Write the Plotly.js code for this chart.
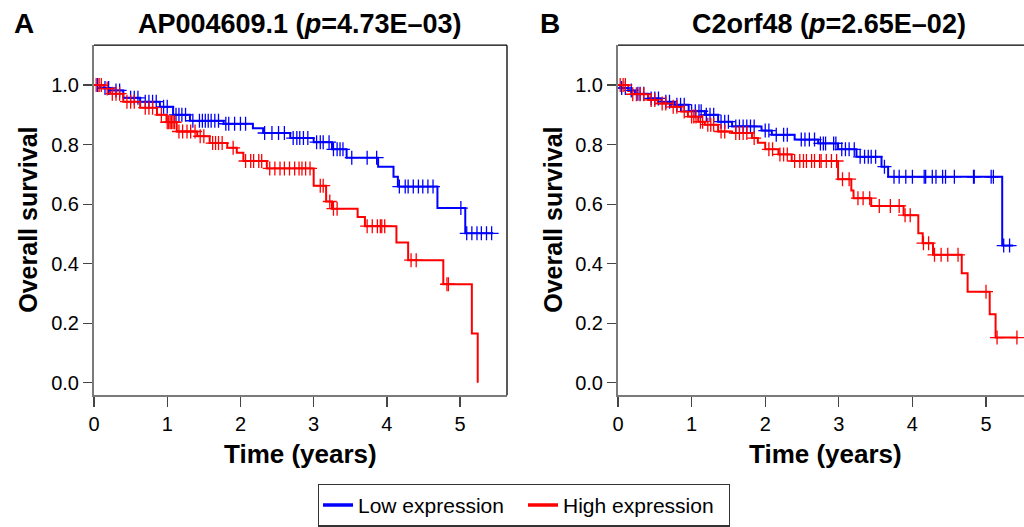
<!DOCTYPE html>
<html>
<head>
<meta charset="utf-8">
<script src="https://cdn.plot.ly/plotly-3.0.1.min.js"></script>
<style>html,body{margin:0;padding:0;background:#fff;}#chart{width:1024px;height:527px;}</style>
</head>
<body>
<div id="chart"></div>
<script>
// ---------- Data ----------
const seriesNames = ["Low expression", "High expression"];
const panelTitles = ["AP004609.1 (<i>p</i>=4.73E\u201303)", "C2orf48 (<i>p</i>=2.65E\u201302)"];
const panelLetters = ["A", "B"];
const xTicks = [0, 1, 2, 3, 4, 5];
const yTicks = [0, 0.2, 0.4, 0.6, 0.8, 1.0];

// Panel A – low expression
const aLowTimes = [0, 0.08, 0.22, 0.4, 0.63, 0.9, 1.08, 1.31, 1.77, 2.17, 2.31, 2.68, 3.0, 3.25, 3.45, 3.88, 4.09, 4.15, 4.69, 5.07];
const aLowSurv  = [1.0, 0.99, 0.982, 0.957, 0.944, 0.927, 0.90, 0.88, 0.87, 0.855, 0.839, 0.822, 0.808, 0.784, 0.756, 0.726, 0.692, 0.659, 0.587, 0.502];
const aLowEnd = 5.45;
const aLowCens = [0.05, 0.15, 0.2, 0.3, 0.35, 0.5, 0.55, 0.6, 0.7, 0.75, 0.8, 0.85, 0.95, 1.0, 1.12, 1.16, 1.2, 1.25, 1.35, 1.44, 1.48, 1.52, 1.56, 1.6, 1.65, 1.7, 1.8, 1.84, 1.92, 2.0, 2.07, 2.33, 2.43, 2.52, 2.6, 2.72, 2.77, 2.81, 2.86, 2.92, 3.04, 3.09, 3.13, 3.21, 3.27, 3.32, 3.36, 3.40, 3.52, 3.73, 3.86, 4.17, 4.25, 4.29, 4.36, 4.43, 4.49, 4.56, 4.63, 5.01, 5.09, 5.16, 5.23, 5.29, 5.36, 5.43];

// Panel A – high expression
const aHighTimes = [0, 0.13, 0.22, 0.4, 0.63, 0.86, 0.99, 1.13, 1.41, 1.58, 1.82, 1.95, 2.04, 2.36, 3.0, 3.17, 3.25, 3.6, 3.7, 4.13, 4.29, 4.77, 5.16, 5.24];
const aHighSurv  = [1.0, 0.988, 0.971, 0.944, 0.924, 0.90, 0.875, 0.844, 0.828, 0.805, 0.789, 0.773, 0.745, 0.72, 0.662, 0.609, 0.585, 0.557, 0.526, 0.471, 0.412, 0.331, 0.166, 0.0];
const aHighEnd = 5.24;
const aHighCens = [0.03, 0.07, 0.1, 0.18, 0.25, 0.3, 0.35, 0.45, 0.5, 0.55, 0.7, 0.75, 0.8, 0.92, 1.0, 1.02, 1.04, 1.06, 1.08, 1.1, 1.16, 1.21, 1.27, 1.32, 1.38, 1.45, 1.5, 1.62, 1.66, 1.7, 1.75, 1.9, 2.07, 2.14, 2.18, 2.25, 2.29, 2.4, 2.47, 2.54, 2.6, 2.67, 2.74, 2.8, 2.84, 2.89, 2.95, 3.09, 3.13, 3.22, 3.27, 3.32, 3.73, 3.8, 3.87, 3.91, 3.93, 3.97, 4.33, 4.4, 4.82, 4.84];

// Panel B – low expression
const bLowTimes = [0, 0.03, 0.14, 0.23, 0.41, 0.59, 0.77, 0.96, 1.18, 1.36, 1.55, 1.95, 2.09, 2.40, 2.72, 2.99, 3.24, 3.58, 3.67, 5.22];
const bLowSurv  = [1.0, 0.99, 0.982, 0.971, 0.955, 0.944, 0.934, 0.912, 0.90, 0.877, 0.861, 0.847, 0.833, 0.817, 0.804, 0.784, 0.759, 0.726, 0.692, 0.461];
const bLowEnd = 5.37;
const bLowCens = [0.05, 0.1, 0.18, 0.27, 0.3, 0.35, 0.45, 0.5, 0.55, 0.65, 0.7, 0.8, 0.85, 0.9, 1.0, 1.05, 1.1, 1.13, 1.2, 1.25, 1.3, 1.4, 1.45, 1.5, 1.6, 1.65, 1.7, 1.75, 1.8, 1.85, 2.0, 2.05, 2.15, 2.25, 2.3, 2.49, 2.54, 2.6, 2.67, 2.75, 2.79, 2.82, 2.93, 2.96, 3.04, 3.09, 3.14, 3.21, 3.29, 3.35, 3.4, 3.44, 3.5, 3.62, 3.75, 3.82, 3.91, 4.0, 4.16, 4.18, 4.27, 4.32, 4.41, 4.45, 4.57, 4.83, 4.84, 5.07, 5.1, 5.24, 5.32];

// Panel B – high expression
const bHighTimes = [0, 0.14, 0.18, 0.41, 0.54, 0.72, 0.86, 0.95, 1.09, 1.18, 1.36, 1.55, 1.82, 1.9, 2.0, 2.18, 2.36, 2.99, 3.17, 3.2, 3.44, 3.88, 4.08, 4.14, 4.28, 4.67, 4.75, 5.05, 5.13];
const bHighSurv  = [1.0, 0.98, 0.969, 0.95, 0.938, 0.927, 0.911, 0.894, 0.877, 0.867, 0.844, 0.839, 0.822, 0.806, 0.784, 0.767, 0.745, 0.684, 0.646, 0.62, 0.594, 0.563, 0.502, 0.469, 0.43, 0.368, 0.306, 0.23, 0.152];
const bHighEnd = 5.43;
const bHighCens = [0.03, 0.07, 0.1, 0.2, 0.25, 0.3, 0.35, 0.45, 0.5, 0.6, 0.65, 0.75, 0.8, 0.9, 1.0, 1.03, 1.06, 1.12, 1.15, 1.22, 1.26, 1.3, 1.4, 1.45, 1.6, 1.65, 1.7, 1.75, 1.85, 2.05, 2.1, 2.2, 2.25, 2.3, 2.4, 2.47, 2.52, 2.56, 2.63, 2.67, 2.74, 2.76, 2.83, 2.9, 2.97, 3.05, 3.14, 3.26, 3.33, 3.42, 3.55, 3.7, 3.82, 3.9, 3.97, 4.15, 4.22, 4.3, 4.39, 4.48, 4.62, 5.0, 5.15, 5.42];

// ---------- Helpers ----------
const BLUE = "#0000FF", RED = "#FF0000";
const FONT = "Liberation Sans, Arial, Helvetica, sans-serif";

function survAt(times, surv, t) {
  let v = surv[0];
  for (let i = 0; i < times.length; i++) { if (times[i] <= t) v = surv[i]; }
  return v;
}
function stepTrace(times, surv, end, color, name, xa, ya) {
  return {
    x: times.concat([end]), y: surv.concat([surv[surv.length - 1]]),
    mode: "lines", line: {shape: "hv", color: color, width: 2},
    name: name, showlegend: false, legendgroup: name, xaxis: xa, yaxis: ya, hoverinfo: "skip"
  };
}
function censTrace(times, surv, cens, color, name, xa, ya) {
  return {
    x: cens, y: cens.map(t => survAt(times, surv, t)),
    mode: "markers", marker: {symbol: "cross-thin-open", size: 10, color: color, line: {color: color, width: 1.3}},
    name: name, showlegend: false, legendgroup: name, xaxis: xa, yaxis: ya, hoverinfo: "skip"
  };
}
function legendTrace(color, name) {
  return {x: [null], y: [null], mode: "lines", line: {color: color, width: 3.5}, name: name, showlegend: true, legendgroup: name, xaxis: "x", yaxis: "y"};
}

const traces = [
  stepTrace(aLowTimes, aLowSurv, aLowEnd, BLUE, seriesNames[0], "x", "y"),
  stepTrace(aHighTimes, aHighSurv, aHighEnd, RED, seriesNames[1], "x", "y"),
  censTrace(aLowTimes, aLowSurv, aLowCens, BLUE, seriesNames[0], "x", "y"),
  censTrace(aHighTimes, aHighSurv, aHighCens, RED, seriesNames[1], "x", "y"),
  stepTrace(bLowTimes, bLowSurv, bLowEnd, BLUE, seriesNames[0], "x2", "y2"),
  stepTrace(bHighTimes, bHighSurv, bHighEnd, RED, seriesNames[1], "x2", "y2"),
  censTrace(bLowTimes, bLowSurv, bLowCens, BLUE, seriesNames[0], "x2", "y2"),
  censTrace(bHighTimes, bHighSurv, bHighCens, RED, seriesNames[1], "x2", "y2"),
  legendTrace(BLUE, seriesNames[0]),
  legendTrace(RED, seriesNames[1])
];

// ---------- Layout ----------
const W = 1024, H = 527;
const boxTop = 46, boxBot = 403;
const yDom = [1 - boxBot / H, 1 - boxTop / H];
const yRange = [-0.042, 1.134];
const axLine = "#7a7a7a", tickCol = "#444";

function xAxis(domain, range, anchor) {
  return {
    domain: domain, range: range, anchor: anchor,
    tickmode: "array", tickvals: xTicks, ticktext: xTicks.map(String), ticks: "outside", ticklen: 10, tickwidth: 1.3, tickcolor: tickCol,
    showline: true, linecolor: axLine, linewidth: 2, mirror: false,
    showgrid: false, zeroline: false, tickfont: {family: FONT, size: 20, color: "#000"}, fixedrange: true
  };
}
function yAxis(anchor) {
  return {
    domain: yDom, range: yRange, anchor: anchor,
    tickmode: "array", tickvals: yTicks, ticktext: yTicks.map(v => v.toFixed(1)), ticks: "outside", ticklen: 9, tickwidth: 1.3, tickcolor: tickCol,
    showline: true, linecolor: axLine, linewidth: 2,
    showgrid: false, zeroline: false, tickfont: {family: FONT, size: 20, color: "#000"}, fixedrange: true
  };
}

const aL = 94, aR = 507, bL = 618;
const TS = 27, AS = 25;
const layout = {
  width: W, height: H, margin: {l: 0, r: 0, t: 0, b: 0},
  paper_bgcolor: "#fff", plot_bgcolor: "#fff", showlegend: true,
  xaxis: xAxis([aL / W, aR / W], [0, 5.64], "y"),
  yaxis: yAxis("x"),
  xaxis2: xAxis([bL / W, 1], [0, 5.516], "y2"),
  yaxis2: yAxis("x2"),
  legend: {
    orientation: "h", x: 318 / W, xanchor: "left", y: 1 - 493 / H, yanchor: "top",
    bordercolor: "#333", borderwidth: 1.3, bgcolor: "#fff",
    font: {family: FONT, size: 21, color: "#000"}, itemwidth: 30, entrywidth: 160, tracegroupgap: 0
  },
  shapes: [
    {type: "line", xref: "paper", yref: "paper", x0: aL / W, x1: aR / W, y0: yDom[1], y1: yDom[1], line: {color: "#000", width: 1.3}},
    {type: "line", xref: "paper", yref: "paper", x0: aR / W, x1: aR / W, y0: yDom[0], y1: yDom[1], line: {color: "#000", width: 1.3}},
    {type: "line", xref: "paper", yref: "paper", x0: bL / W, x1: 1, y0: yDom[1], y1: yDom[1], line: {color: "#000", width: 1.3}}
  ],
  annotations: [
    {text: "<b>" + panelLetters[0] + "</b>", x: 24 / W, y: 1 - 24 / H, xref: "paper", yref: "paper", showarrow: false, xanchor: "center", yanchor: "middle", font: {family: FONT, size: 28, color: "#000"}},
    {text: "<b>" + panelLetters[1] + "</b>", x: 550 / W, y: 1 - 24 / H, xref: "paper", yref: "paper", showarrow: false, xanchor: "center", yanchor: "middle", font: {family: FONT, size: 28, color: "#000"}},
    {text: "<b>" + panelTitles[0] + "</b>", x: 300 / W, y: 1 - 24 / H, xref: "paper", yref: "paper", showarrow: false, xanchor: "center", yanchor: "middle", font: {family: FONT, size: TS, color: "#000"}},
    {text: "<b>" + panelTitles[1] + "</b>", x: 829 / W, y: 1 - 24 / H, xref: "paper", yref: "paper", showarrow: false, xanchor: "center", yanchor: "middle", font: {family: FONT, size: TS, color: "#000"}},
    {text: "<b>Overall survival</b>", x: 28 / W, y: 1 - 224 / H, xref: "paper", yref: "paper", showarrow: false, textangle: -90, xanchor: "center", yanchor: "middle", font: {family: FONT, size: AS, color: "#000"}},
    {text: "<b>Overall survival</b>", x: 553 / W, y: 1 - 224 / H, xref: "paper", yref: "paper", showarrow: false, textangle: -90, xanchor: "center", yanchor: "middle", font: {family: FONT, size: AS, color: "#000"}},
    {text: "<b>Time (years)</b>", x: 300 / W, y: 1 - 463 / H, xref: "paper", yref: "paper", showarrow: false, xanchor: "center", yanchor: "middle", font: {family: FONT, size: 26, color: "#000"}},
    {text: "<b>Time (years)</b>", x: 825 / W, y: 1 - 463 / H, xref: "paper", yref: "paper", showarrow: false, xanchor: "center", yanchor: "middle", font: {family: FONT, size: 26, color: "#000"}}
  ]
};

Plotly.newPlot("chart", traces, layout, {displayModeBar: false, staticPlot: true});
</script>
</body>
</html>
